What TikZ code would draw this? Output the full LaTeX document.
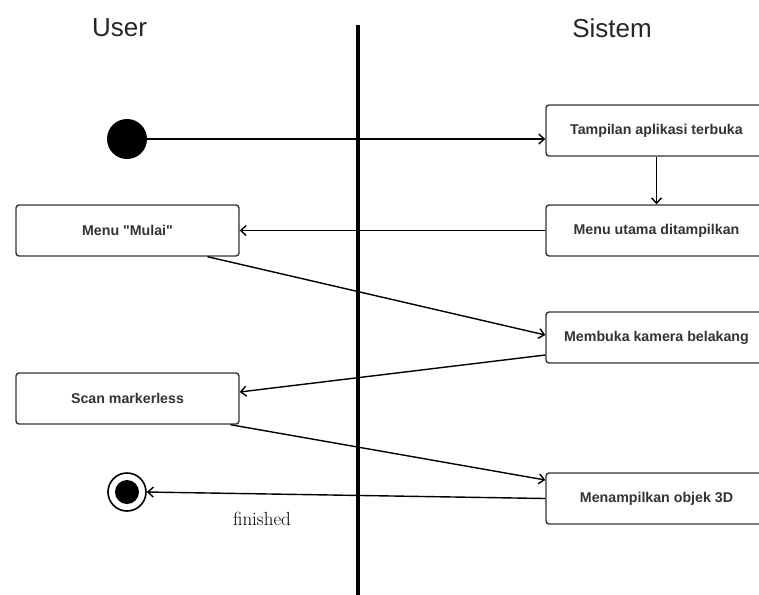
\documentclass[tikz,border=0pt]{standalone}
\usepackage{fontspec}
\newfontfamily\lsans{Liberation Sans}
\usetikzlibrary{arrows.meta,calc}
\begin{document}
\begin{tikzpicture}[x=1pt,y=-1pt,
  act/.style={draw=black!80, line width=1.4pt, rounded corners=3pt, fill=white,
    minimum width=221pt, minimum height=51pt, inner sep=0pt,
    font=\lsans\fontsize{14.2}{16}\selectfont\bfseries, text=black!80},
  flow/.style={line width=1.4pt, -{Straight Barb[length=5.5pt,width=10pt,line width=1.4pt]}},
  lane/.style={font=\lsans\fontsize{26}{29}\selectfont, text=black!85}]
\useasboundingbox (0,0) rectangle (759,594);
\fill[white] (0,0) rectangle (759,594);
\draw[line width=4pt] (357.5,25) coordinate (ltop) -- (357.5,600) coordinate (lbot);
\node[lane] (user) at (119.5,28) {User};
\node[lane] (sistem) at (612,28) {Sistem};
\node[circle, fill=black, minimum size=40pt, inner sep=0pt] (start) at (127,139) {};
\node[circle, draw=black, line width=1.6pt, minimum size=38pt, inner sep=0pt] (end) at (127,492) {};
\node[circle, fill=black, minimum size=24pt, inner sep=0pt] (endin) at (127,492) {};
\node[act] (tamp) at (656.5,130.5) {Tampilan aplikasi terbuka};
\node[act] (utama) at (656.5,230.5) {Menu utama ditampilkan};
\node[act] (buka) at (656.5,337.5) {Membuka kamera belakang};
\node[act] (menam) at (656.5,498.5) {Menampilkan objek 3D};
\node[act, minimum width=223pt] (mulai) at (127.5,230.5) {Menu "Mulai"};
\node[act, minimum width=223pt] (scan) at (127.5,398.5) {Scan markerless};
\draw[flow] (start.east) -- ([yshift=-8.5pt]tamp.west);
\draw[flow] (tamp.south) -- (utama.north);
\draw[flow] (utama.west) -- (mulai.east);
\draw[flow] ([xshift=80pt]mulai.south) -- ([yshift=2.5pt]buka.west);
\draw[flow] ([yshift=-17.5pt]buka.west) -- ([yshift=6.5pt]scan.east);
\draw[flow] ([xshift=103pt]scan.south) -- ([yshift=18.5pt]menam.west);
\draw[flow] (menam.west) -- (end.east);
\node[font=\fontfamily{lmr}\fontsize{19}{22}\selectfont, text=black] (fin) at (262,519) {finished};
\end{tikzpicture}
\end{document}
